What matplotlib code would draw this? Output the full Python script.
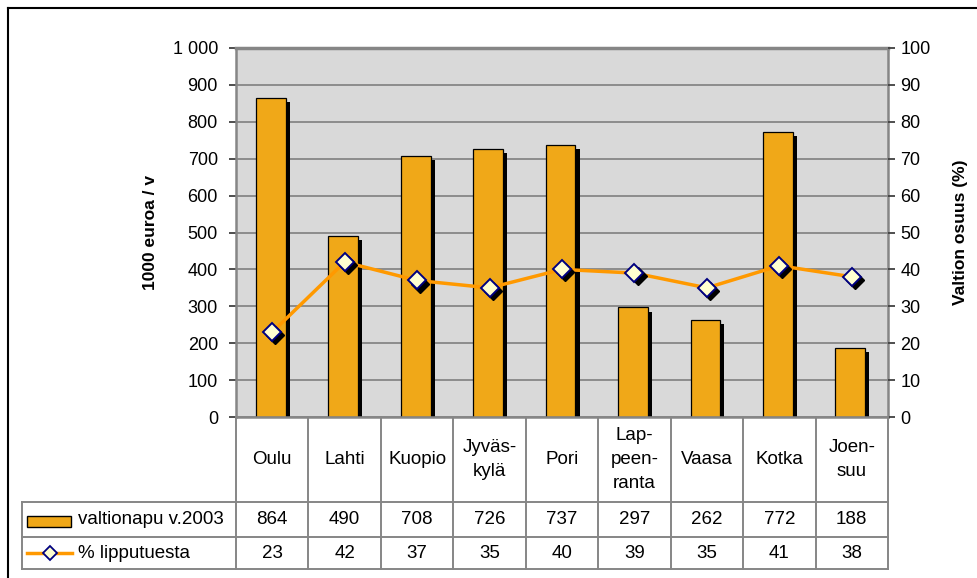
import numpy as np
import matplotlib
matplotlib.use("Agg")
import matplotlib.pyplot as plt
from matplotlib.lines import Line2D
from matplotlib.patches import Rectangle
from matplotlib import patheffects as pe
from matplotlib.transforms import offset_copy
from matplotlib.ticker import FuncFormatter, MultipleLocator

plt.rcParams['font.family'] = ['Liberation Sans', 'DejaVu Sans']

# --- data ---
cities = ["Oulu", "Lahti", "Kuopio", "Jyväs-\nkylä", "Pori",
          "Lap-\npeen-\nranta", "Vaasa", "Kotka", "Joen-\nsuu"]
valtionapu = [864, 490, 708, 726, 737, 297, 262, 772, 188]
lipputuki_pct = [23, 42, 37, 35, 40, 39, 35, 41, 38]
bar_label = "valtionapu v.2003"
line_label = "% lipputuesta"
left_label = "1000 euroa / v"
right_label = "Valtion osuus (%)"

BAR = "#F0A818"
LINE = "#FF9900"
GRID = "#868686"
BG = "#D9D9D9"

W, H = 977, 578
fig = plt.figure(figsize=(W / 100, H / 100), dpi=100)

def fx(px):
    return px / W

def fy(py):
    return 1 - py / H

ax_l, ax_r, ax_t, ax_b = 236, 888, 48, 417
ax = fig.add_axes([fx(ax_l), fy(ax_b), fx(ax_r - ax_l), (ax_b - ax_t) / H])
ax.set_facecolor(BG)
x = np.arange(len(cities))
ax.set_xlim(-0.5, len(cities) - 0.5)
ax.set_ylim(0, 1000)
ax.yaxis.set_major_locator(MultipleLocator(100))
ax.yaxis.set_major_formatter(FuncFormatter(lambda v, p: f"{int(v):,}".replace(",", " ")))
ax.set_xticks([])
ax.grid(axis='y', color=GRID, lw=1.3, zorder=0)
ax.set_axisbelow(True)
for s in ['left', 'right', 'bottom']:
    ax.spines[s].set_color(GRID)
    ax.spines[s].set_linewidth(1.8)
ax.spines['top'].set_color(GRID)
ax.spines['top'].set_linewidth(2.5)
ax.tick_params(axis='y', direction='out', length=5, width=1.3, color='#404040',
               pad=8, labelsize=13, labelcolor='black')

bars = ax.bar(x - 0.02, valtionapu, width=0.41, color=BAR, edgecolor='black', lw=0.9, zorder=2)
for b in bars:
    b.set_path_effects([pe.SimplePatchShadow(offset=(3, -3), shadow_rgbFace='black', alpha=1.0),
                        pe.Normal()])

ax.set_ylabel(left_label, fontsize=12.5, fontweight='bold')
ax.yaxis.set_label_coords(-0.12, 0.5)

ax2 = ax.twinx()
ax2.set_ylim(0, 100)
ax2.yaxis.set_major_locator(MultipleLocator(10))
ax2.tick_params(axis='y', direction='out', length=5, width=1.3, color='#404040',
                pad=4, labelsize=13)
for s in ax2.spines.values():
    s.set_visible(False)
ax2.plot(x, lipputuki_pct, color=LINE, lw=2.5, zorder=3)
shadow_tr = offset_copy(ax2.transData, fig=fig, x=2.2, y=-2.2, units='points')
ax2.plot(x, lipputuki_pct, ls='none', marker='D', ms=9.5, color='black', transform=shadow_tr, zorder=4)
ax2.plot(x, lipputuki_pct, ls='none', marker='D', ms=9.5, mfc='#FFFFD0', mec='#000080', mew=1.4, zorder=5)
ax2.set_ylabel(right_label, fontsize=12.5, fontweight='bold', rotation=90)
ax2.yaxis.set_label_coords(1.099, 0.5)

# --- data table below the plot ---
row_y = [ax_b, 502, 537, 569]
leg_left = 22
tbl_c = GRID
col_edges = [fig.transFigure.inverted().transform(ax.transData.transform((e, 0)))[0]
             for e in np.arange(len(cities) + 1) - 0.5]
col_centers = [fig.transFigure.inverted().transform(ax.transData.transform((c, 0)))[0] for c in x]

def hline(x0, x1, y):
    fig.add_artist(Line2D([x0, x1], [fy(y), fy(y)], color=tbl_c, lw=1.4, transform=fig.transFigure))

def vline(xx, y0, y1):
    fig.add_artist(Line2D([xx, xx], [fy(y0), fy(y1)], color=tbl_c, lw=1.4, transform=fig.transFigure))

for e in col_edges:
    vline(e, row_y[0], row_y[3])
vline(fx(leg_left), row_y[1], row_y[3])
for yy in row_y[1:]:
    hline(fx(leg_left), col_edges[-1], yy)

fs = 13.5
cy0 = (row_y[0] + row_y[1]) / 2
cy1 = (row_y[1] + row_y[2]) / 2
cy2 = (row_y[2] + row_y[3]) / 2
for cx, name, v, p in zip(col_centers, cities, valtionapu, lipputuki_pct):
    fig.text(cx, fy(cy0), name, ha='center', va='center', fontsize=fs, linespacing=1.55)
    fig.text(cx, fy(cy1), f"{v}", ha='center', va='center', fontsize=fs)
    fig.text(cx, fy(cy2), f"{p}", ha='center', va='center', fontsize=fs)

# legend keys inside the table
fig.add_artist(Rectangle((fx(27), fy(527)), fx(44), 11 / H, facecolor=BAR, edgecolor='black',
                         lw=1.0, transform=fig.transFigure))
fig.text(fx(78), fy(cy1), bar_label, ha='left', va='center', fontsize=fs)
fig.add_artist(Line2D([fx(27), fx(72)], [fy(cy2), fy(cy2)], color=LINE, lw=2.5, transform=fig.transFigure))
fig.add_artist(Line2D([fx(50)], [fy(cy2)], ls='none', marker='D', ms=7.5, mfc='#FFFFD0', mec='#000080',
                      mew=1.3, transform=fig.transFigure))
fig.text(fx(78), fy(cy2), line_label, ha='left', va='center', fontsize=fs)

# outer chart frame
fig.add_artist(Line2D([fx(8), fx(8)], [fy(8), 0], color='black', lw=1.5, transform=fig.transFigure))
fig.add_artist(Line2D([fx(8), 1], [fy(8), fy(8)], color='black', lw=1.5, transform=fig.transFigure))

fig.savefig("out.png", dpi=100)
